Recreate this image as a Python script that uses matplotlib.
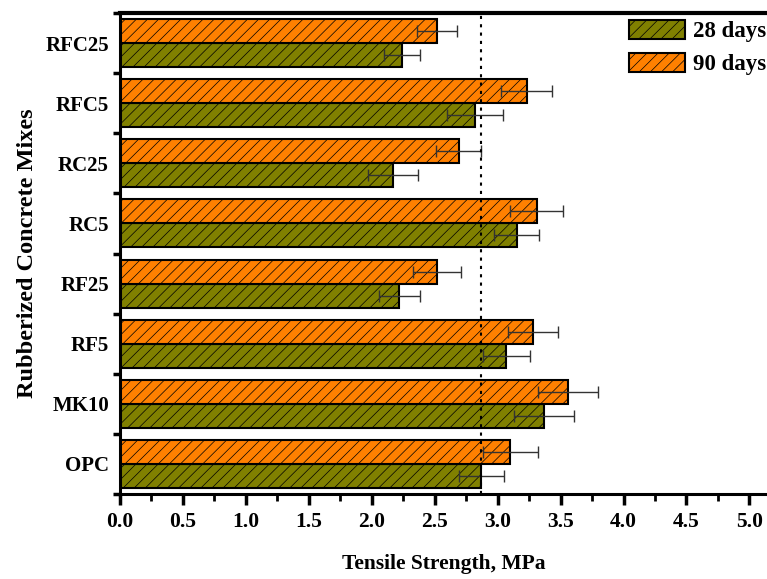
import numpy as np
import matplotlib
matplotlib.use("Agg")
import matplotlib.pyplot as plt
from matplotlib.ticker import MultipleLocator

# ===============================
# dados (MPa)
# ===============================
mixes = ["OPC", "MK10", "RF5", "RF25", "RC5", "RC25", "RFC5", "RFC25"]
ts_28 = [2.87, 3.37, 3.07, 2.22, 3.15, 2.17, 2.82, 2.24]
err_28 = [0.18, 0.24, 0.19, 0.16, 0.18, 0.20, 0.22, 0.14]
ts_90 = [3.10, 3.56, 3.28, 2.52, 3.31, 2.69, 3.23, 2.52]
err_90 = [0.22, 0.24, 0.20, 0.19, 0.21, 0.18, 0.20, 0.16]

plt.rcParams["font.family"] = ["Liberation Serif", "DejaVu Serif"]
plt.rcParams["font.weight"] = "bold"
plt.rcParams["hatch.linewidth"] = 0.5
plt.rcParams["hatch.color"] = "black"

fig = plt.figure(figsize=(7.67, 5.79), dpi=100)
ax = fig.add_axes([120 / 767, 1 - 494 / 579, 1 - 120 / 767, (494 - 13) / 579])

y = np.arange(len(mixes))
h = 0.4
err_kw = dict(ecolor="#333333", elinewidth=1.0, capsize=4, capthick=1.0)

ax.barh(y - h / 2, ts_28, height=h, color="#808000", edgecolor="black",
        linewidth=1.5, hatch="///", xerr=err_28, error_kw=err_kw, label="28 days")
ax.barh(y + h / 2, ts_90, height=h, color="#FF8000", edgecolor="black",
        linewidth=1.5, hatch="///", xerr=err_90, error_kw=err_kw, label="90 days")

# linha de referência = OPC aos 28 dias
ax.axvline(ts_28[0], color="black", linestyle=(0, (1.5, 2.5)), linewidth=1.5, zorder=5)

ax.set_xlim(0, 5.14)
ax.set_ylim(-0.5, len(mixes) - 0.5)

ax.xaxis.set_major_locator(MultipleLocator(0.5))
ax.xaxis.set_minor_locator(MultipleLocator(0.25))
ax.xaxis.set_major_formatter(matplotlib.ticker.FormatStrFormatter("%.1f"))

# ticks nas fronteiras, rótulos no centro das categorias
ax.set_yticks(np.arange(-0.5, len(mixes), 1.0))
ax.set_yticklabels([])
ax.set_yticks(y, minor=True)
ax.set_yticklabels(mixes, minor=True)

ax.tick_params(axis="x", which="major", direction="out", length=8, width=2.5,
               labelsize=15.5, pad=5)
ax.tick_params(axis="x", which="minor", direction="out", length=5, width=2.0)
ax.tick_params(axis="y", which="major", direction="out", length=5, width=2.5)
ax.tick_params(axis="y", which="minor", length=0, labelsize=15, pad=8)

for s in ["left", "bottom"]:
    ax.spines[s].set_linewidth(2.2)
ax.spines["top"].set_linewidth(3)
ax.spines["right"].set_visible(False)

ax.set_xlabel("Tensile Strength, MPa", fontsize=15.5, fontweight="bold", labelpad=16)
ax.set_ylabel("Rubberized Concrete Mixes", fontsize=17.5, fontweight="bold")
ax.yaxis.set_label_coords(-0.127, 0.5)

ax.legend(loc="upper right", bbox_to_anchor=(766 / 767, 1 - 20 / 579),
          bbox_transform=fig.transFigure, frameon=False, fontsize=16.5,
          handlelength=2.45, handleheight=0.9, labelspacing=0.45,
          handletextpad=0.35, borderpad=0, borderaxespad=0)

fig.savefig("out.png", dpi=100)
